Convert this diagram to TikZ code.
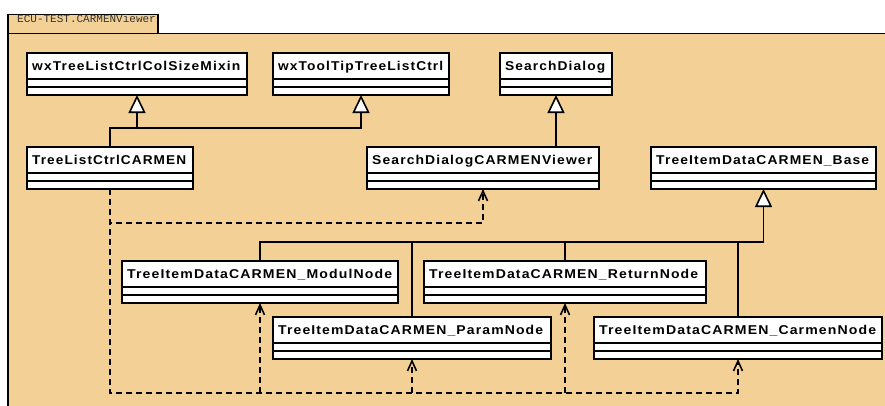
\documentclass[tikz,border=0pt]{standalone}
\usepackage{fontspec}
\usepackage{graphicx}
\usetikzlibrary{arrows.meta}
\newfontfamily\clsfont[LetterSpace=8]{Liberation Sans}
\newfontfamily\tabfont{Liberation Mono}
\definecolor{pkgfill}{RGB}{243,208,150}
\tikzset{
  pkgline/.style={draw=black, line width=1.8pt, fill=pkgfill},
  clsbox/.style={draw=black, fill=white, line width=1.6pt, rectangle, inner sep=0pt, outer sep=0pt, minimum height=42pt, anchor=north west},
  clsline/.style={draw=black, line width=1.6pt},
  clstext/.style={font=\clsfont\bfseries\fontsize{12.8}{14}\selectfont, inner sep=0pt, anchor=base west},
  gen/.style={draw=black, line width=1.6pt, -{Triangle[length=18pt,width=17pt,fill=white]}},
  genline/.style={draw=black, line width=1.6pt},
  dep/.style={draw=black, line width=1.6pt, dash pattern=on 6pt off 4pt},
  deparrow/.style={dep, -{Straight Barb[length=10pt,width=9pt]}},
}
\newcommand\umlcls[6]{%
  \node[clsbox, minimum width=#4pt] (#1) at (#2,#3) {};
  \draw[clsline] ([yshift=-26pt]#1.north west) -- ([yshift=-26pt]#1.north east);
  \draw[clsline] ([yshift=-34pt]#1.north west) -- ([yshift=-34pt]#1.north east);
  \node[clstext] (#1-t) at ([xshift=5pt,yshift=-17pt]#1.north west) {\resizebox{#6pt}{\height}{#5}};
}
\begin{document}
\begin{tikzpicture}[x=1pt,y=-1pt]
\useasboundingbox (0,0) rectangle (885,405);
\clip (0,0) rectangle (885,405);
% package
\draw[pkgline] (8,14.5) rectangle (158,33.5);
\node[font=\tabfont\fontsize{11}{12}\selectfont, text=black!80, inner sep=0pt, anchor=base west] (pkgname) at (17,22) {ECU-TEST.CARMENViewer};
\draw[pkgline] (8,33.5) rectangle (900,420);
% classes
\umlcls{mixin}{27}{53}{220}{wxTreeListCtrlColSizeMixin}{208}
\umlcls{tooltip}{273}{53}{176}{wxToolTipTreeListCtrl}{165}
\umlcls{search}{500}{53}{112}{SearchDialog}{100}
\umlcls{tlc}{27}{147}{166}{TreeListCtrlCARMEN}{154}
\umlcls{sdcv}{367}{147}{232}{SearchDialogCARMENViewer}{220}
\umlcls{base}{651}{147}{225}{TreeItemDataCARMEN\_Base}{213}
\umlcls{modul}{122}{261}{276}{TreeItemDataCARMEN\_ModulNode}{265}
\umlcls{ret}{424}{261}{282}{TreeItemDataCARMEN\_ReturnNode}{269}
\umlcls{param}{273}{317}{278}{TreeItemDataCARMEN\_ParamNode}{265}
\umlcls{carmen}{594}{317}{288}{TreeItemDataCARMEN\_CarmenNode}{277}
% generalizations
\draw[gen] (tlc.north) -- (tlc.north |- 0,128) -| (mixin.south);
\draw[gen] (tlc.north |- 0,128) -| (tooltip.south);
\draw[gen] (sdcv.north -| search.south) -- (search.south);
\draw[gen] (carmen.north |- 0,242) -| (base.south);
\draw[genline] (modul.north) -- (modul.north |- 0,242) -- (carmen.north |- 0,242) -- (carmen.north);
\draw[genline] (param.north) -- (param.north |- 0,242);
\draw[genline] (ret.north) -- (ret.north |- 0,242);
% dependencies
\draw[deparrow] (tlc.south) -- (tlc.south |- 0,223) -| (sdcv.south);
\draw[deparrow] (tlc.south) -- (tlc.south |- 0,393) -| (carmen.south);
\draw[deparrow] (modul.south |- 0,393) -- (modul.south);
\draw[deparrow] (param.south |- 0,393) -- (param.south);
\draw[deparrow] (ret.south |- 0,393) -- (ret.south);
\end{tikzpicture}
\end{document}
